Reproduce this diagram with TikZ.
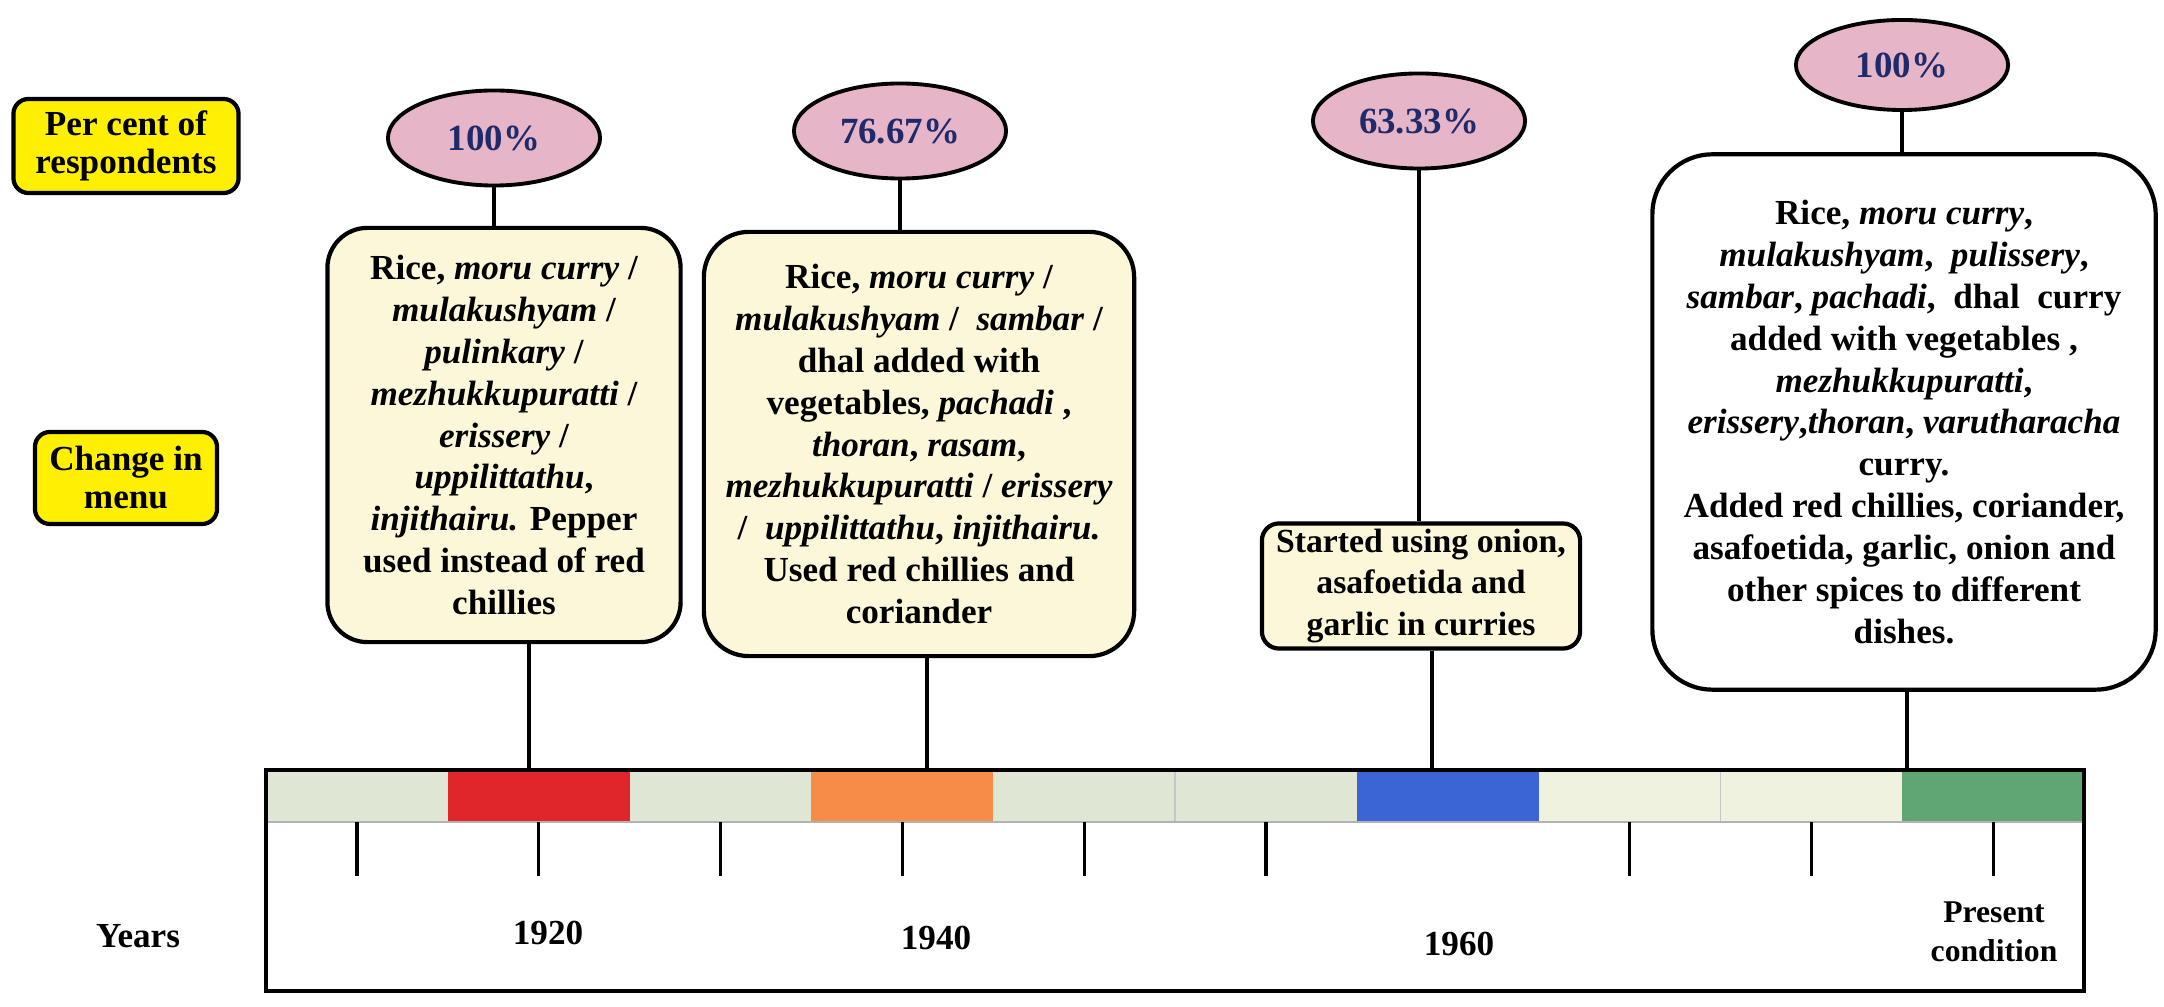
\documentclass[tikz,border=0pt]{standalone}
\usepackage{fontspec}
\setmainfont{Liberation Serif}
\usetikzlibrary{shapes.geometric}
\definecolor{boxcream}{HTML}{FBF7D8}
\definecolor{pinkfill}{HTML}{E7B5C8}
\definecolor{navy}{HTML}{1F2A6B}
\definecolor{legyellow}{HTML}{FFEF00}
\definecolor{segA}{HTML}{DFE6D3}
\definecolor{segB}{HTML}{EFF2DF}
\definecolor{segred}{HTML}{E0262A}
\definecolor{segorange}{HTML}{F78B48}
\definecolor{segblue}{HTML}{3B64D4}
\definecolor{seggreen}{HTML}{5FA672}
\begin{document}
\begin{tikzpicture}[x=0.01cm,y=-0.01cm,
  menubox/.style={draw=black, line width=1.2pt, rounded corners=0.4cm, fill=boxcream, align=center, font=\bfseries\fontsize{10}{11.9}\selectfont, inner sep=0pt},
  pct/.style={ellipse, draw=black, line width=1.1pt, fill=pinkfill, text=navy, font=\bfseries\fontsize{10.5}{12}\selectfont, minimum width=2.12cm, minimum height=0.95cm, inner sep=0pt},
  legendbox/.style={draw=black, line width=1.2pt, rounded corners=0.15cm, fill=legyellow, align=center, font=\bfseries\fontsize{10}{10.8}\selectfont, inner sep=0pt},
  link/.style={line width=1.1pt},
  tickline/.style={line width=0.9pt},
  seg/.style={minimum width=1.818cm, minimum height=0.52cm, inner sep=0pt, outer sep=0pt, anchor=north west, draw=none},
  lab/.style={font=\bfseries\fontsize{10}{12}\selectfont, align=center}
]
\useasboundingbox (0,0) rectangle (2164,1007);

% legend boxes
\node[legendbox, minimum width=2.25cm, minimum height=0.94cm] (l1) at (126,146) {Per cent of\\respondents};
\node[legendbox, minimum width=1.82cm, minimum height=0.92cm] (l2) at (126,478) {Change in\\menu};

% percentage ellipses
\node[pct] (e1) at (494,138) {100\%};
\node[pct] (e2) at (900,131) {76.67\%};
\node[pct] (e3) at (1419,121) {63.33\%};
\node[pct, minimum height=0.9cm] (e4) at (1902,65) {100\%};

% menu boxes
\node[menubox, minimum width=3.53cm, minimum height=4.14cm] (b1) at (504,435) {Rice, \textit{moru curry} /\\ \textit{mulakushyam} /\\ \textit{pulinkary} /\\ \textit{mezhukkupuratti} /\\ \textit{erissery} /\\ \textit{uppilittathu},\\ \textit{injithairu.} Pepper\\ used instead of red\\ chillies};
\node[menubox, minimum width=4.30cm, minimum height=4.24cm, rounded corners=0.45cm] (b2) at (919,444) {Rice, \textit{moru curry} /\\ \textit{mulakushyam} /~ \textit{sambar} /\\ dhal added with\\ vegetables, \textit{pachadi} ,\\ \textit{thoran}, \textit{rasam},\\ \textit{mezhukkupuratti} / \textit{erissery}\\ /~ \textit{uppilittathu}, \textit{injithairu.}\\ Used red chillies and\\ coriander};
\node[menubox, font=\bfseries\fontsize{9.6}{11.9}\selectfont, minimum width=3.18cm, minimum height=1.25cm, rounded corners=0.17cm] (b3) at (1421,586) {Started using onion,\\ asafoetida and\\ garlic in curries};
\node[menubox, fill=white, minimum width=5.03cm, minimum height=5.35cm, rounded corners=0.6cm] (b4) at (1904,422) {Rice, \textit{moru curry},\\ \textit{mulakushyam},~ \textit{pulissery},\\ \textit{sambar}, \textit{pachadi},~ dhal~ curry\\ added with vegetables ,\\ \textit{mezhukkupuratti},\\ \textit{erissery},\textit{thoran}, \textit{varutharacha}\\ curry.\\ Added red chillies, coriander,\\ asafoetida, garlic, onion and\\ other spices to different\\ dishes.};

% timeline strip
\foreach \i/\c in {1/segA,2/segred,3/segA,4/segorange,5/segA,6/segA,7/segblue,8/segB,9/segB,10/seggreen}{
  \node[seg, fill=\c] (s\i) at ({266+181.8*(\i-1)},770) {};
}
\draw[gray!45, line width=0.4pt] (s6.north west) -- (s6.south west);
\draw[gray!45, line width=0.4pt] (s9.north west) -- (s9.south west);
\draw[gray!60, line width=0.4pt] (s1.south west) -- (s10.south east);
\draw[line width=1pt] (266,770) rectangle (2084,991);

% ticks
\foreach \i in {1,2,3,4,5,6,8,9,10}{
  \draw[tickline] (s\i.south) -- ++(0,54);
}

% connector anchor points on the strip
\coordinate (t1) at (529,770);
\coordinate (t2) at (927,770);
\coordinate (t3) at (1432,770);
\coordinate (t4) at (1907,770);

% connectors
\draw[link] (e1.south) -- (e1.south |- b1.north);
\draw[link] (e2.south) -- (e2.south |- b2.north);
\draw[link] (e3.south) -- (e3.south |- b3.north);
\draw[link] (e4.south) -- (e4.south |- b4.north);
\draw[link] (b1.south -| t1) -- (t1);
\draw[link] (b2.south -| t2) -- (t2);
\draw[link] (b3.south -| t3) -- (t3);
\draw[link] (b4.south -| t4) -- (t4);

% labels
\node[lab] (yrs) at (138,936) {Years};
\node[lab] (y1920) at (548,933) {1920};
\node[lab] (y1940) at (936,938) {1940};
\node[lab] (y1960) at (1459,944) {1960};
\node[lab, font=\bfseries\fontsize{9}{11}\selectfont] (ypres) at (1994,932) {Present\\condition};
\end{tikzpicture}
\end{document}
